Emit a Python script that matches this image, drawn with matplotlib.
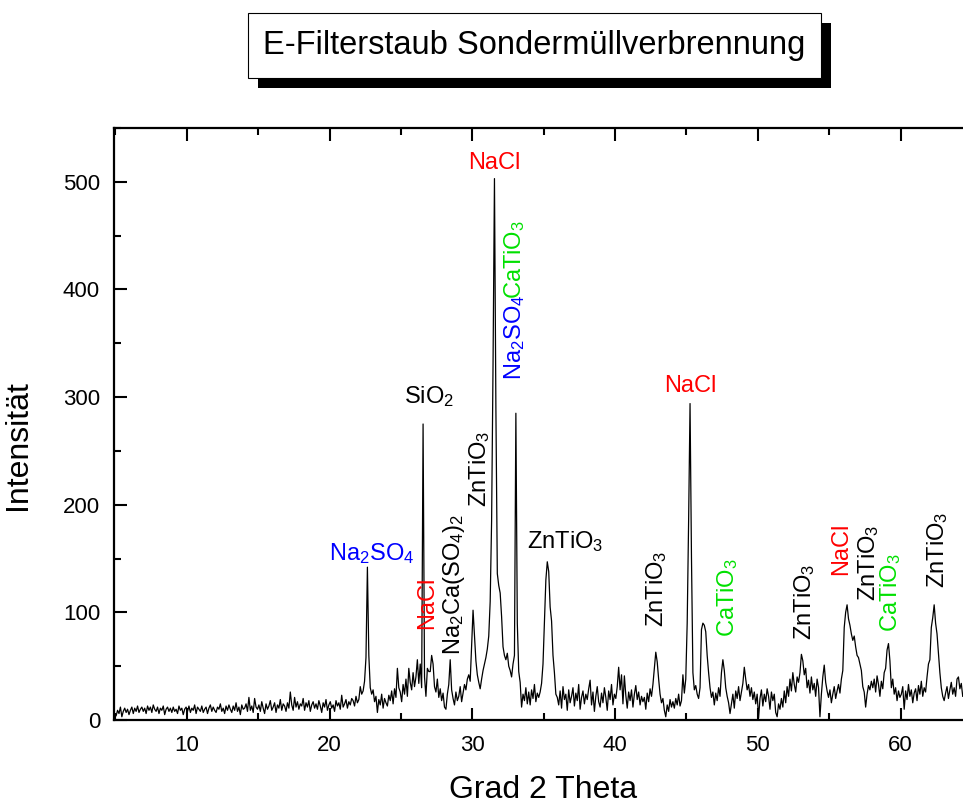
import numpy as np
import matplotlib
matplotlib.use("Agg")
import matplotlib.pyplot as plt
from matplotlib.ticker import MultipleLocator
from matplotlib.patches import Rectangle

plt.rcParams['font.family'] = ['Liberation Sans', 'DejaVu Sans']
plt.rcParams['mathtext.fontset'] = 'custom'
plt.rcParams['mathtext.rm'] = 'Liberation Sans'

# Messraster: 5.05 .. 64.35 Grad 2 Theta, Schrittweite 0.1
theta_start = 5.05
theta_step = 0.1

# Intensitaeten, je Zeile ein Grad (x.05 .. x.95)
intensitaet = [
    4, 9, 6, 12, 3, 8, 11, 7, 10, 5,             # 5
    9, 12, 6, 11, 8, 13, 7, 10, 12, 8,           # 6
    11, 6, 13, 9, 12, 7, 14, 10, 8, 12,          # 7
    6, 11, 9, 13, 5, 10, 12, 8, 11, 7,           # 8
    12, 8, 10, 6, 13, 9, 11, 5, 10, 12,          # 9
    8, 13, 7, 11, 9, 14, 6, 12, 10, 8,           # 10
    13, 7, 10, 12, 6, 11, 14, 8, 12, 9,          # 11
    7, 12, 10, 15, 8, 11, 6, 13, 9, 14,          # 12
    10, 7, 13, 9, 16, 8, 12, 5, 14, 10,          # 13
    11, 15, 8, 21, 9, 13, 7, 20, 12, 10,         # 14
    14, 8, 17, 11, 6, 15, 10, 13, 18, 9,         # 15
    12, 16, 7, 14, 11, 19, 9, 15, 13, 8,         # 16
    16, 11, 26, 14, 9, 21, 12, 17, 10, 15,       # 17
    13, 20, 9, 16, 12, 18, 8, 14, 17, 11,        # 18
    15, 10, 18, 13, 7, 16, 12, 19, 9, 14,        # 19
    17, 11, 14, 8, 18, 13, 16, 10, 23, 12,       # 20
    15, 19, 11, 17, 14, 20, 18, 13, 22, 16,      # 21
    19, 31, 24, 27, 36, 58, 142, 60, 30, 24,     # 22
    28, 17, 22, 7, 19, 14, 24, 11, 20, 16,       # 23
    13, 23, 18, 27, 15, 29, 21, 48, 30, 26,      # 24
    17, 33, 24, 38, 22, 48, 35, 28, 44, 31,      # 25
    40, 56, 34, 52, 30, 275, 40, 22, 48, 45,     # 26
    45, 60, 52, 31, 26, 38, 21, 29, 18, 25,      # 27
    12, 10, 24, 33, 56, 28, 20, 14, 26, 18,      # 28
    22, 31, 17, 25, 33, 28, 38, 42, 36, 68,      # 29
    102, 78, 55, 42, 35, 29, 38, 46, 52, 58,     # 30
    66, 78, 110, 185, 330, 503, 290, 136, 125, 118,  # 31
    96, 68, 60, 56, 62, 50, 46, 40, 52, 60,      # 32
    285, 90, 45, 35, 12, 24, 18, 30, 15, 26,     # 33
    14, 28, 20, 33, 17, 25, 21, 26, 34, 52,      # 34
    90, 130, 147, 138, 105, 92, 60, 44, 24, 21,  # 35
    14, 27, 11, 31, 19, 24, 9, 28, 16, 22,       # 36
    30, 13, 25, 18, 33, 10, 21, 27, 15, 24,      # 37
    19, 29, 37, 14, 26, 8, 22, 31, 17, 12,       # 38
    25, 16, 30, 21, 9, 27, 19, 33, 14, 24,       # 39
    20, 31, 49, 28, 42, 15, 41, 23, 11, 26,      # 40
    18, 28, 12, 24, 32, 19, 26, 14, 22, 17,      # 41
    21, 10, 25, 17, 29, 22, 33, 48, 63, 54,      # 42
    38, 24, 16, 20, 9, 3, 14, 8, 19, 12,         # 43
    17, 11, 20, 14, 24, 13, 18, 42, 25, 38,      # 44
    90, 185, 294, 151, 44, 28, 32, 24, 20, 30,   # 45
    84, 90, 88, 82, 60, 44, 30, 21, 26, 14,      # 46
    25, 18, 30, 22, 44, 56, 46, 30, 22, 16,      # 47
    6, 15, 24, 11, 27, 20, 31, 18, 26, 34,       # 48
    49, 38, 28, 33, 22, 30, 19, 26, 15, 24,      # 49
    2, 20, 28, 13, 24, 17, 29, 22, 10, 26,       # 50
    18, 24, 7, 3, 15, 10, 20, 12, 27, 16,        # 51
    31, 22, 38, 27, 44, 33, 26, 40, 35, 44,      # 52
    61, 55, 42, 48, 30, 37, 25, 40, 28, 34,      # 53
    22, 38, 30, 3, 24, 40, 51, 35, 27, 21,       # 54
    28, 16, 24, 31, 20, 27, 33, 25, 38, 46,      # 55
    86, 100, 107, 94, 88, 80, 74, 78, 68, 60,    # 56
    58, 52, 46, 31, 26, 12, 24, 32, 28, 36,      # 57
    30, 38, 26, 41, 33, 22, 36, 29, 44, 48,      # 58
    65, 71, 55, 30, 38, 24, 30, 18, 27, 21,      # 59
    24, 31, 10, 27, 19, 33, 22, 28, 16, 25,      # 60
    29, 18, 32, 24, 36, 22, 30, 26, 40, 52,      # 61
    56, 86, 95, 107, 90, 80, 62, 44, 30, 22,     # 62
    18, 25, 31, 20, 28, 35, 24, 30, 22, 38,      # 63
    40, 29, 34, 22,                              # 64
]

two_theta = theta_start + theta_step * np.arange(len(intensitaet))

# Beschriftungen der Reflexe: x, y, Text, Farbe, Drehung
lbl_x = [31.55, 45.3, 26.99, 22.94, 36.47,
         26.86, 28.74, 30.5, 32.94, 32.94, 42.9, 47.85, 53.3, 55.84, 57.76, 59.3, 62.6]
lbl_y = [512, 305, 294, 149, 160,
         85, 60, 198, 316, 391, 86, 77, 74, 135, 111, 82, 123]
lbl_txt = ['NaCl', 'NaCl', r'$\mathregular{SiO_2}$', r'$\mathregular{Na_2SO_4}$', r'$\mathregular{ZnTiO_3}$',
           'NaCl', r'$\mathregular{Na_2Ca(SO_4)_2}$', r'$\mathregular{ZnTiO_3}$', r'$\mathregular{Na_2SO_4}$',
           r'$\mathregular{CaTiO_3}$', r'$\mathregular{ZnTiO_3}$', r'$\mathregular{CaTiO_3}$',
           r'$\mathregular{ZnTiO_3}$', 'NaCl', r'$\mathregular{ZnTiO_3}$', r'$\mathregular{CaTiO_3}$',
           r'$\mathregular{ZnTiO_3}$']
lbl_col = ['red', 'red', 'black', 'blue', 'black',
           'red', 'black', 'black', 'blue', '#00e000', 'black', '#00e000',
           'black', 'red', 'black', '#00e000', 'black']
lbl_rot = [0, 0, 0, 0, 0,
           90, 90, 90, 90, 90, 90, 90, 90, 90, 90, 90, 90]

fig = plt.figure(figsize=(9.63, 8.05), dpi=100)
# Achse reicht rechts ueber den Bildrand hinaus (wie im Original abgeschnitten)
ax = fig.add_axes([114 / 963, 85 / 805, 858 / 963, 592 / 805])

ax.plot(two_theta, intensitaet, color='black', linewidth=0.9)

ax.set_xlim(4.9, 65)
ax.set_ylim(0, 550)
ax.xaxis.set_major_locator(MultipleLocator(10))
ax.xaxis.set_minor_locator(MultipleLocator(5))
ax.yaxis.set_major_locator(MultipleLocator(100))
ax.yaxis.set_minor_locator(MultipleLocator(50))

ax.tick_params(which='both', direction='in', top=True, right=False, width=1.5, labelsize=16)
ax.tick_params(which='major', length=9)
ax.tick_params(which='minor', length=5)
ax.tick_params(axis='x', pad=11)
ax.tick_params(axis='y', pad=10)
for s in ['left', 'bottom', 'top']:
    ax.spines[s].set_linewidth(1.6)
ax.spines['right'].set_visible(False)

ax.set_xlabel('Grad 2 Theta', fontsize=23)
ax.set_ylabel('Intensität', fontsize=23)
ax.xaxis.set_label_coords(0.5, -0.093)
ax.yaxis.set_label_coords(-0.094, 0.464)

for x, y, t, c, r in zip(lbl_x, lbl_y, lbl_txt, lbl_col, lbl_rot):
    if r == 0:
        ax.text(x, y, t, color=c, fontsize=17, ha='center', va='baseline')
    else:
        ax.text(x, y, t, color=c, fontsize=17, rotation=90, ha='center', va='bottom')

# Titel im Kasten mit Schatten
W, H = 963, 805
bx0, by0, bw, bh = 248, 13, 573, 65
fig.patches.append(Rectangle(((bx0 + 10) / W, 1 - (by0 + bh + 10) / H), bw / W, bh / H,
                             transform=fig.transFigure, facecolor='black', edgecolor='none', zorder=1))
fig.patches.append(Rectangle((bx0 / W, 1 - (by0 + bh) / H), bw / W, bh / H,
                             transform=fig.transFigure, facecolor='white', edgecolor='black',
                             linewidth=0.8, zorder=2))
fig.text((bx0 + bw / 2) / W, 1 - (by0 + bh / 2) / H, 'E-Filterstaub Sondermüllverbrennung',
         fontsize=23.5, ha='center', va='center', zorder=3)

fig.savefig('out.png', dpi=100)
